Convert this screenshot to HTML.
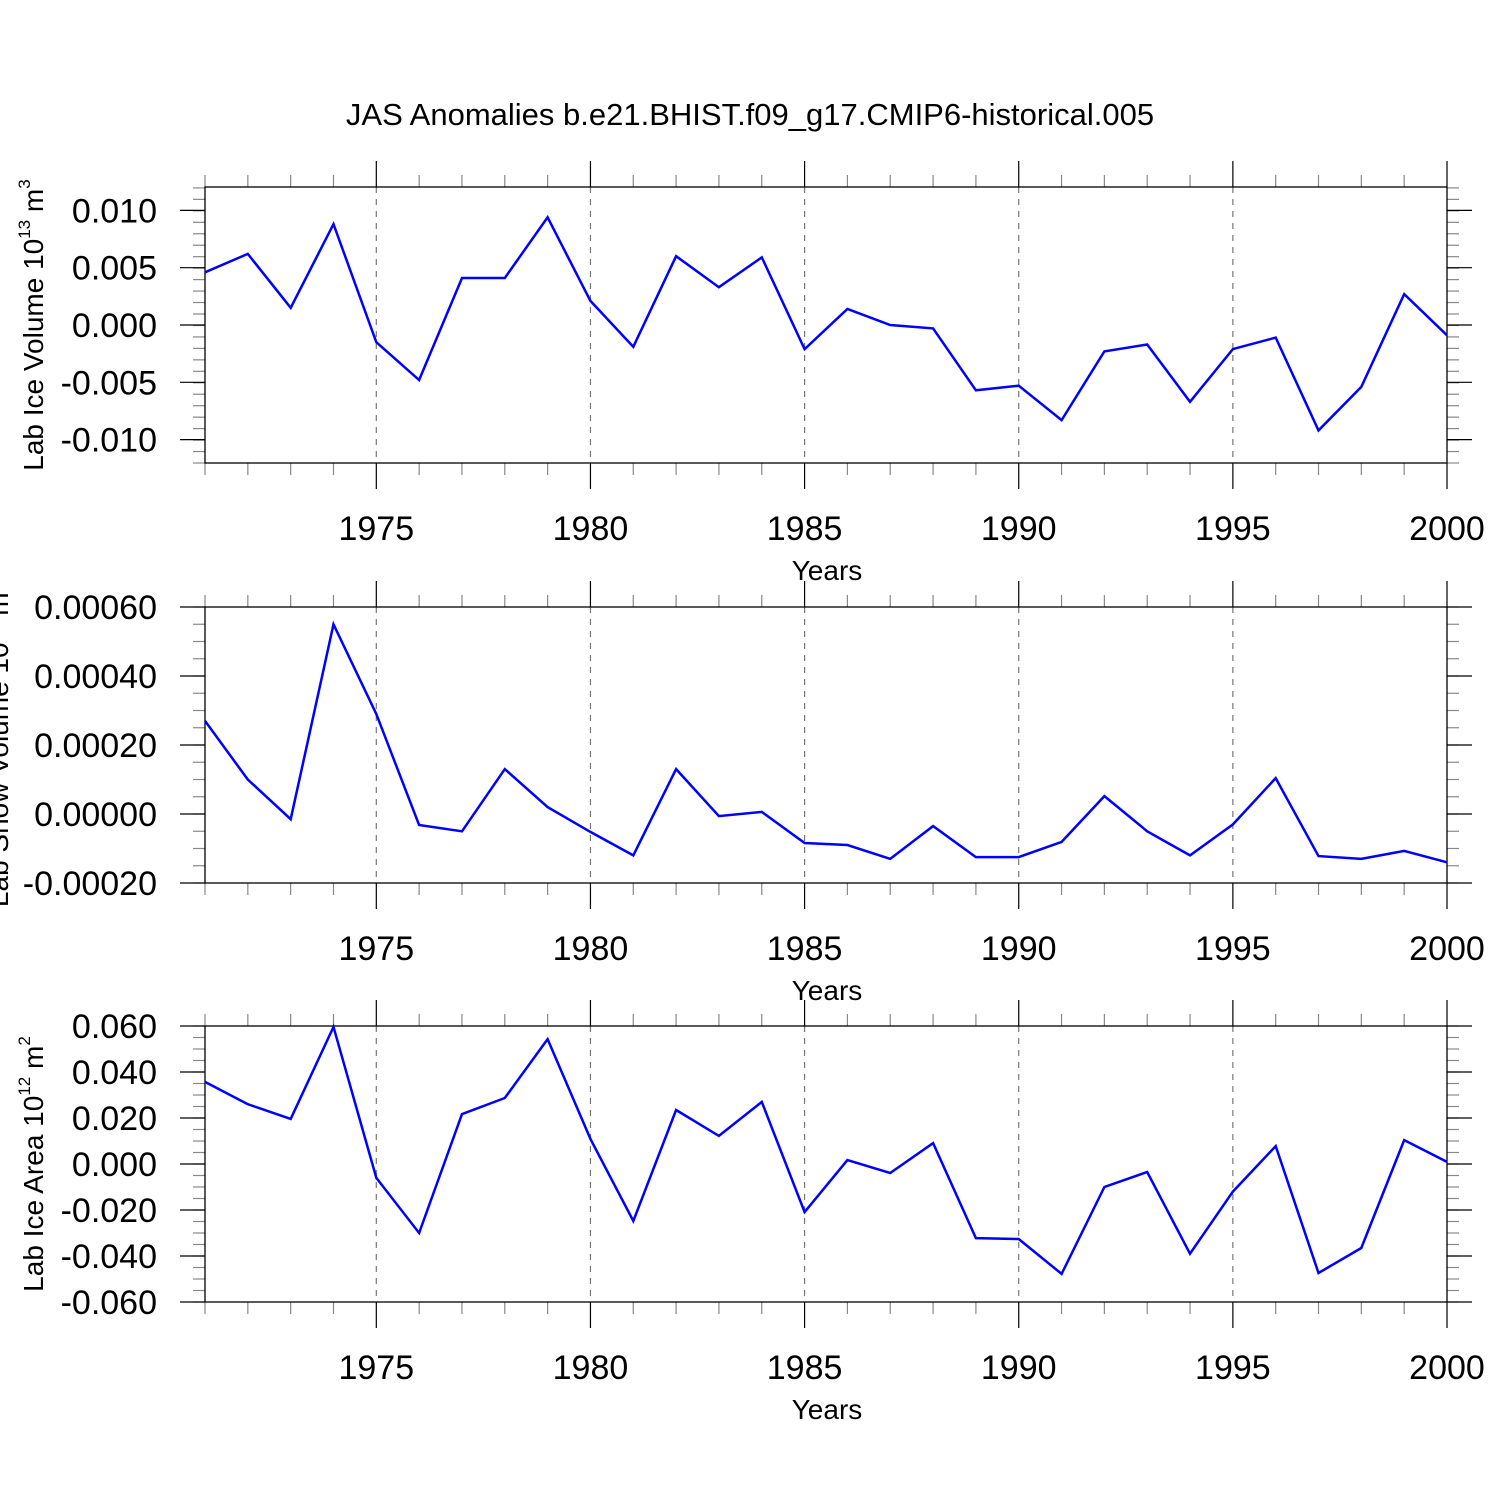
<!DOCTYPE html>
<html><head><meta charset="utf-8"><style>
html,body{margin:0;padding:0;background:#fff}
svg{display:block;font-family:"Liberation Sans",sans-serif}
</style></head><body>
<svg id="chart" width="1500" height="1500" viewBox="0 0 1500 1500" xmlns="http://www.w3.org/2000/svg">
<text x="750" y="125" font-size="31" text-anchor="middle">JAS Anomalies b.e21.BHIST.f09_g17.CMIP6-historical.005</text>
</svg>
<script>
const years = [1971,1972,1973,1974,1975,1976,1977,1978,1979,1980,1981,1982,1983,1984,1985,1986,1987,1988,1989,1990,1991,1992,1993,1994,1995,1996,1997,1998,1999,2000];
const xTickYears = [1975,1980,1985,1990,1995,2000];
const iceVolume = [0.0046,0.0062,0.0015,0.0088,-0.0015,-0.0048,0.0041,0.0041,0.0094,0.0021,-0.0019,0.0060,0.0033,0.0059,-0.0021,0.0014,0.0000,-0.0003,-0.0057,-0.0053,-0.0083,-0.0023,-0.0017,-0.0067,-0.0021,-0.0011,-0.0092,-0.0054,0.0027,-0.0009];
const snowVolume = [0.00027,0.00010,-0.000015,0.00055,0.00029,-0.000032,-0.00005,0.00013,0.00002,-0.000052,-0.00012,0.00013,-0.000006,0.000006,-0.000084,-0.00009,-0.00013,-0.000035,-0.000125,-0.000125,-0.000081,0.000052,-0.00005,-0.00012,-0.00003,0.000104,-0.000122,-0.00013,-0.000107,-0.00014];
const iceArea = [0.0357,0.026,0.0196,0.0596,-0.006,-0.030,0.0217,0.0287,0.0543,0.0109,-0.0248,0.0235,0.0122,0.027,-0.0209,0.0017,-0.0039,0.0091,-0.0322,-0.0326,-0.0478,-0.010,-0.0035,-0.039,-0.012,0.0078,-0.0474,-0.0365,0.0104,0.0009];
const volTicks = [0.010,0.005,0.000,-0.005,-0.010];
const volTickLabels = ["0.010","0.005","0.000","-0.005","-0.010"];
const snowTicks = [0.0006,0.0004,0.0002,0,-0.0002];
const snowTickLabels = ["0.00060","0.00040","0.00020","0.00000","-0.00020"];
const areaTicks = [0.06,0.04,0.02,0,-0.02,-0.04,-0.06];
const areaTickLabels = ["0.060","0.040","0.020","0.000","-0.020","-0.040","-0.060"];

const svg = document.getElementById('chart');
const NS = 'http://www.w3.org/2000/svg';
function mk(tag, attrs, parent){const e=document.createElementNS(NS,tag);for(const k in attrs)e.setAttribute(k,attrs[k]);(parent||svg).appendChild(e);return e;}
const X0=205,X1=1447;
function xs(yr){return X0+(yr-1971)*(X1-X0)/(2000-1971);}

function panel(o){
  const g=mk('g',{});
  
  
  const ys=v=>o.top+(o.ymax-v)*(o.bot-o.top)/(o.ymax-o.ymin);
  xTickYears.forEach(yr=>{ if(yr<2000){const l=mk('line',{x1:xs(yr),x2:xs(yr),y1:o.top,y2:o.bot,stroke:'#777','stroke-width':1.2,'stroke-dasharray':'6,6'},g);
    
    }});
  years.forEach(yr=>{const maj=xTickYears.includes(yr);const c=maj?'#000':'#888';const len=maj?26:12;
    mk('line',{x1:xs(yr),x2:xs(yr),y1:o.top-len,y2:o.top,stroke:c,'stroke-width':1.2},g);
    mk('line',{x1:xs(yr),x2:xs(yr),y1:o.bot,y2:o.bot+len,stroke:c,'stroke-width':1.2},g);});
  for(let v=o.ymin;v<=o.ymax+o.minor*0.01;v+=o.minor){const y=ys(v);
    mk('line',{x1:X0-12,x2:X0,y1:y,y2:y,stroke:'#888','stroke-width':1.2},g);
    mk('line',{x1:X1,x2:X1+12,y1:y,y2:y,stroke:'#888','stroke-width':1.2},g);}
  o.ticks.forEach((v,i)=>{const y=ys(v);
    mk('line',{x1:X0-25,x2:X0,y1:y,y2:y,stroke:'#000','stroke-width':1.2},g);
    mk('line',{x1:X1,x2:X1+25,y1:y,y2:y,stroke:'#000','stroke-width':1.2},g);
    const t=mk('text',{x:157,y:y+12,'font-size':34,'text-anchor':'end'},g);t.textContent=o.labels[i];
    
    });
  const f=mk('rect',{x:X0,y:o.top,width:X1-X0,height:o.bot-o.top,fill:'none',stroke:'#000','stroke-width':1.3},g);
  
  
  xTickYears.forEach(yr=>{const t=mk('text',{x:xs(yr),y:o.bot+77,'font-size':34,'text-anchor':'middle'},g);t.textContent=yr;
    
    });
  const xt=mk('text',{x:827,y:o.bot+117,'font-size':28,'text-anchor':'middle'},g);xt.textContent='Years';
  
  
  const cy=(o.top+o.bot)/2;
  const yt=mk('text',{x:o.tx,y:cy,'font-size':28,'text-anchor':'middle',transform:`rotate(-90 ${o.tx} ${cy})`},g);
  yt.innerHTML=o.title;
  
  
  const pts=o.data.map((v,i)=>xs(years[i]).toFixed(1)+','+ys(v).toFixed(1)).join(' ');
  const pl=mk('polyline',{points:pts,fill:'none',stroke:'#0000ff','stroke-width':2.5,'stroke-linejoin':'miter'},g);
  
  
}
const sup=(s)=>`<tspan dy="-13" font-size="17">${s}</tspan><tspan dy="13"> </tspan>`;
panel({name:'ice-volume-panel',top:187,bot:463,ymin:-0.01204,ymax:0.01204,minor:0.001,ticks:volTicks,labels:volTickLabels,data:iceVolume,tx:43,
  title:`Lab Ice Volume 10${sup('13')}m<tspan dy="-13" font-size="17">3</tspan>`});
panel({name:'snow-volume-panel',top:607,bot:883,ymin:-0.0002,ymax:0.0006,minor:0.00005,ticks:snowTicks,labels:snowTickLabels,data:snowVolume,tx:8,
  title:`Lab Snow Volume 10${sup('13')}m<tspan dy="-13" font-size="17">3</tspan>`});
panel({name:'ice-area-panel',top:1026,bot:1302,ymin:-0.06,ymax:0.06,minor:0.005,ticks:areaTicks,labels:areaTickLabels,data:iceArea,tx:43,
  title:`Lab Ice Area 10${sup('12')}m<tspan dy="-13" font-size="17">2</tspan>`});
</script>
</body></html>
